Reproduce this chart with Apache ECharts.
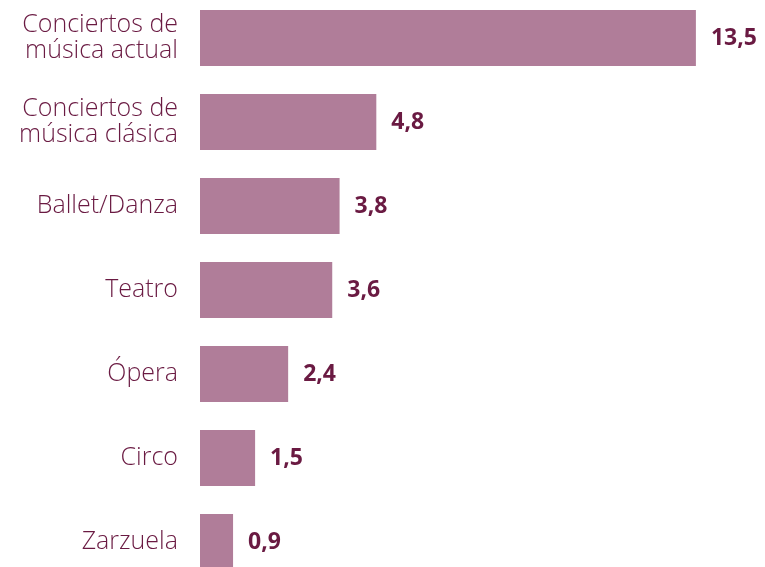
<!DOCTYPE html>
<html>
<head>
<meta charset="utf-8">
<script src="https://cdn.jsdelivr.net/npm/echarts@6/dist/echarts.min.js"></script>
<style>
  html, body { margin: 0; padding: 0; background: #fff; }
  #chart { width: 765px; height: 567px; }
</style>
</head>
<body>
<div id="chart"></div>
<script>
// datos
const categories = [
    "Conciertos de\nmúsica actual",
    "Conciertos de\nmúsica clásica",
    "Ballet/Danza",
    "Teatro",
    "Ópera",
    "Circo",
    "Zarzuela"
];
const values = [13.5, 4.8, 3.8, 3.6, 2.4, 1.5, 0.9];

const barColor = "#b07d99";
const textColor = "#6a1a42";

let chart = echarts.init(document.getElementById("chart"));
chart.setOption({
    animation: false,
    grid: {
        left: 200, width: 551, top: -4, height: 588,
        containLabel: false,
        outerBoundsMode: "none"
    },
    xAxis: {
        type: "value",
        min: 0,
        max: 15,
        show: false
    },
    yAxis: {
        type: "category",
        data: categories,
        inverse: true,
        axisLine: { show: false },
        axisTick: { show: false },
        axisLabel: {
            margin: 22,
            color: textColor,
            fontFamily: "Open Sans",
            fontWeight: 300,
            fontSize: 25,
            lineHeight: 26,
            align: "right"
        }
    },
    series: [{
        type: "bar",
        data: values,
        barWidth: 56,
        itemStyle: { color: barColor },
        label: {
            show: true,
            position: "right",
            distance: 15,
            color: textColor,
            fontFamily: "Open Sans",
            fontWeight: "bold",
            fontSize: 23,
            formatter: p => String(p.value).replace(".", ",")
        }
    }]
});
</script>
</body>
</html>
